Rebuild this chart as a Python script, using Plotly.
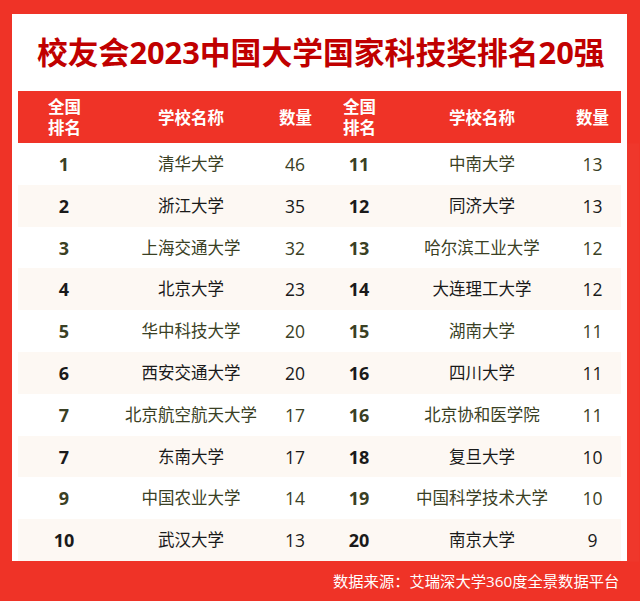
import plotly.graph_objects as go

title = "校友会2023中国大学国家科技奖排名20强"
source = "数据来源：艾瑞深大学360度全景数据平台"

headers = ["全国<br>排名", "学校名称", "数量", "全国<br>排名", "学校名称", "数量"]

ranks_left = ["1", "2", "3", "4", "5", "6", "7", "7", "9", "10"]
schools_left = ["清华大学", "浙江大学", "上海交通大学", "北京大学", "华中科技大学",
                "西安交通大学", "北京航空航天大学", "东南大学", "中国农业大学", "武汉大学"]
counts_left = [46, 35, 32, 23, 20, 20, 17, 17, 14, 13]

ranks_right = ["11", "12", "13", "14", "15", "16", "16", "18", "19", "20"]
schools_right = ["中南大学", "同济大学", "哈尔滨工业大学", "大连理工大学", "湖南大学",
                 "四川大学", "北京协和医学院", "复旦大学", "中国科学技术大学", "南京大学"]
counts_right = [13, 13, 12, 12, 11, 11, 11, 10, 10, 9]

RED = "#ef3327"
DARK_RED = "#c00000"
BAND = "#fdf8f3"
OLIVE = "#3a4024"
DARK = "#1a1a1a"
CLEAR = "rgba(0,0,0,0)"
FONT = "Open Sans, Noto Sans CJK SC"
W, H = 640, 601

# column widths in px, header labels are centred on them
col_widths = [92, 162, 46, 82, 164, 57]
col_sizes = [18, 16.5, 17.5, 18, 16.5, 17.5]

row_fill = ["white" if i % 2 == 0 else BAND for i in range(len(ranks_left))]
row_text = [OLIVE if i % 2 == 0 else DARK for i in range(len(ranks_left))]


def bold(items):
    return ["<b>%s</b>" % s for s in items]


def plain(items):
    # tagged text gets the same vertical placement as the bold columns
    return ["<span>%s</span>" % s for s in items]


fig = go.Figure()

# bands only
fig.add_trace(go.Table(
    domain=dict(x=[18 / W, 621 / W], y=[1 - 561 / H, 1 - 91 / H]),
    columnwidth=col_widths,
    header=dict(values=[""] * 6, fill_color=RED, line_width=0, height=52),
    cells=dict(
        values=[[""] * len(row_fill)] * 6,
        fill_color=[row_fill] * 6,
        line_width=0,
        height=41.8,
    ),
))

# text on top, sits a little lower than the table would put it
fig.add_trace(go.Table(
    domain=dict(x=[18 / W, 621 / W], y=[1 - 562 / H, 1 - 92 / H]),
    columnwidth=col_widths,
    header=dict(values=[""] * 6, fill_color=CLEAR, line_color=CLEAR, line_width=0, height=52),
    cells=dict(
        values=[bold(ranks_left), plain(schools_left), plain(counts_left),
                bold(ranks_right), plain(schools_right), plain(counts_right)],
        fill_color=CLEAR,
        line_color=CLEAR,
        line_width=0,
        align="center",
        height=41.8,
        font=dict(family=FONT, size=col_sizes, color=[row_text] * 6),
    ),
))

fig.add_shape(type="rect", xref="paper", yref="paper", layer="below",
              x0=12 / W, x1=627 / W, y0=1 - 561 / H, y1=1 - 14 / H,
              fillcolor="white", line_width=0)

left = 18
for label, width in zip(headers, col_widths):
    fig.add_annotation(text="<b>%s</b>" % label, xref="paper", yref="paper",
                       x=(left + width / 2) / W, y=1 - 117 / H, showarrow=False,
                       xanchor="center", yanchor="middle",
                       font=dict(family=FONT, size=16.5, color="white"))
    left += width

fig.add_annotation(text="<b>%s</b>" % title, xref="paper", yref="paper",
                   x=320.5 / W, y=1 - 52 / H, showarrow=False, xanchor="center", yanchor="middle",
                   font=dict(family=FONT, size=30.8, color=DARK_RED))
fig.add_annotation(text=source, xref="paper", yref="paper",
                   x=621 / W, y=1 - 581 / H, showarrow=False, xanchor="right", yanchor="middle",
                   font=dict(family=FONT, size=15.3, color="white"))

fig.update_layout(width=W, height=H, margin=dict(l=0, r=0, t=0, b=0),
                  paper_bgcolor=RED, showlegend=False)

fig.write_html("out.html", config=dict(displayModeBar=False),
               post_script="document.body.style.margin='0';")
